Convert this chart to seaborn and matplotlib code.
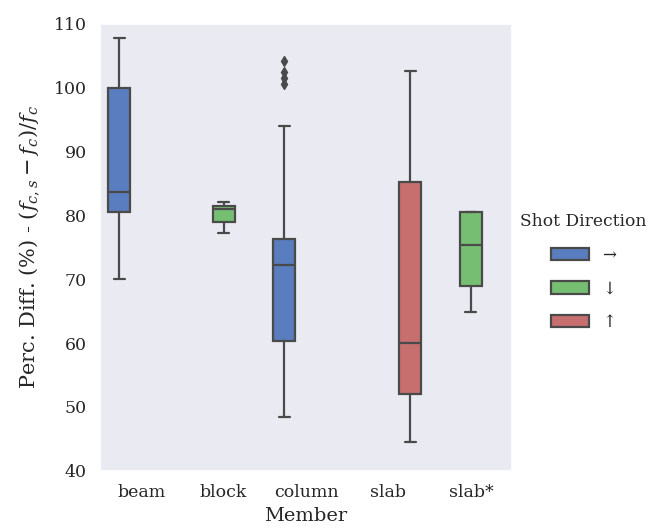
import numpy as np
import pandas as pd
import seaborn as sns
import matplotlib.pyplot as plt

beam = [70.1, 80.6, 83.6, 100.0, 107.8]
block = [77.2, 79.0, 81.0, 81.4, 82.1]
column = [48.4, 51.0, 54.0, 56.5, 58.5, 60.25, 63.0, 66.0, 68.5, 70.5,
          72.3, 73.2, 74.0, 74.8, 75.6, 76.3, 94.0, 100.6, 101.5, 102.5, 104.2]
slab = [44.45, 52.0, 60.0, 85.15, 102.6]
slab_star = [64.9, 68.9, 75.4, 80.5, 80.5]

members = ["beam", "block", "column", "slab", "slab*"]
directions = ["\u2192", "\u2193", "\u2191"]
member_dir = {"beam": "\u2192", "block": "\u2193", "column": "\u2192",
              "slab": "\u2191", "slab*": "\u2193"}
colors = ["#4878CF", "#6ACC65", "#D65F5F"]

# Build a long table for seaborn
rows = []
for name, vals in zip(members, [beam, block, column, slab, slab_star]):
    for v in vals:
        rows.append({"Member": name, "Shot Direction": member_dir[name], "value": v})
df = pd.DataFrame(rows)

sns.set_theme(style="darkgrid", context="notebook")
plt.rcParams['font.family'] = ['DejaVu Serif', 'DejaVu Sans']
plt.rcParams['mathtext.fontset'] = 'dejavuserif'
plt.rcParams['axes.grid'] = False

fig, ax = plt.subplots(figsize=(6.54, 5.29), dpi=100)
fig.subplots_adjust(left=0.153, right=0.783, top=0.955, bottom=0.11)

sns.boxplot(data=df, x="Member", y="value", hue="Shot Direction",
            order=members, hue_order=directions, palette=colors, dodge=True,
            linewidth=1.6, linecolor="#4a4a4a",
            flierprops=dict(marker="d", markersize=5, markerfacecolor="#4a4a4a",
                            markeredgecolor="#4a4a4a"), ax=ax)

ax.set_ylim(40, 110)
ax.set_xlim(-0.5, 4.5)
ax.tick_params(labelsize=12.5)
ax.set_xlabel("Member", fontsize=14)
ax.set_ylabel("Perc. Diff. (%) - $(f_{c,s} - f_c)/f_c$", fontsize=15, labelpad=9)

ax.legend(title="Shot Direction", loc="center left", bbox_to_anchor=(0.995, 0.445),
          frameon=False, handlelength=2.3, handleheight=0.75, labelspacing=1.0,
          fontsize=12, title_fontsize=12.3, borderaxespad=0.2)

fig.savefig("out.png", dpi=100)
